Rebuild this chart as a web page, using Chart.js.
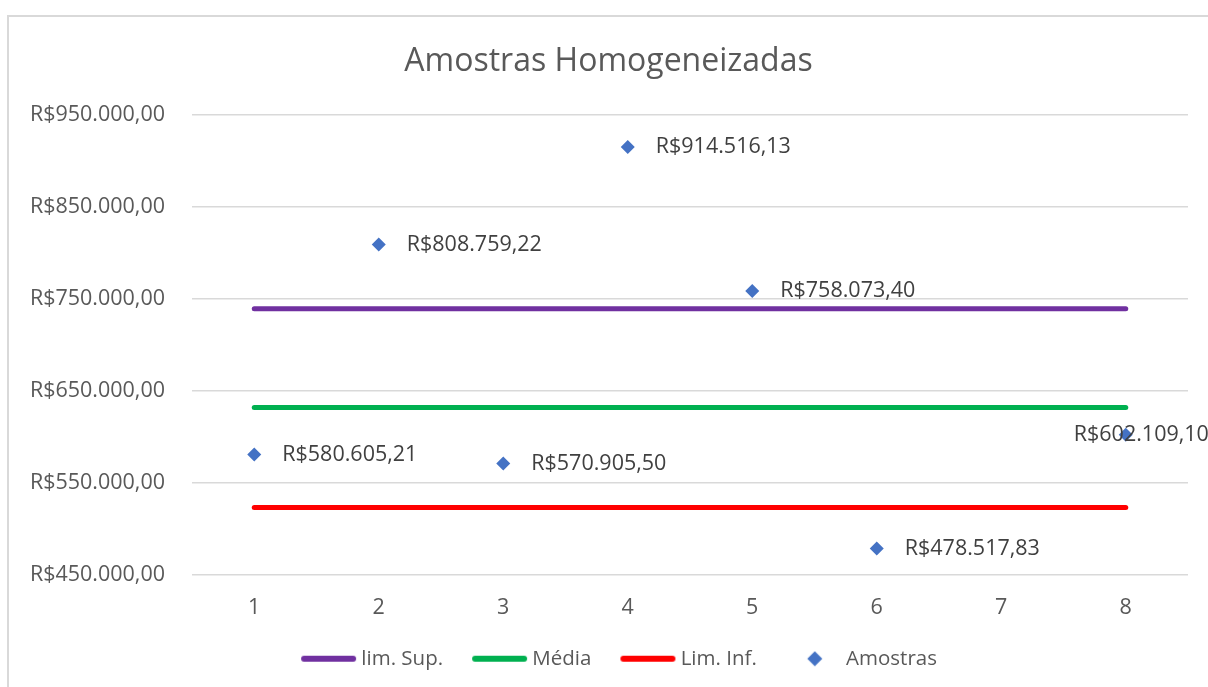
<!DOCTYPE html>
<html>
<head>
<meta charset="utf-8">
<script src="https://cdn.jsdelivr.net/npm/chart.js@4.4.0/dist/chart.umd.min.js"></script>
<style>
  html, body { margin: 0; padding: 0; background: #fff; }
  #wrap { position: relative; width: 1208px; height: 687px; overflow: hidden; }
  #frame { position: absolute; left: 7px; top: 15px; width: 1400px; height: 900px;
           border-left: 2px solid #d9d9d9; border-top: 2px solid #d9d9d9; }
  canvas { position: absolute; left: 0; top: 0; }
</style>
</head>
<body>
<div id="wrap">
  <div id="frame"></div>
  <canvas id="chart" width="1208" height="687"></canvas>
</div>
<script>
// Data
const categories = ['1', '2', '3', '4', '5', '6', '7', '8'];
const amostras = [580605.21, 808759.22, 570905.50, 914516.13, 758073.40, 478517.83, null, 602109.10];
const limSup = [739000, 739000, 739000, 739000, 739000, 739000, 739000, 739000];
const media = [631500, 631500, 631500, 631500, 631500, 631500, 631500, 631500];
const limInf = [523000, 523000, 523000, 523000, 523000, 523000, 523000, 523000];

const FONT = '"Open Sans", "Noto Sans", sans-serif';

// Format as Brazilian currency, e.g. R$950.000,00
function brl(v) {
    const parts = v.toFixed(2).split('.');
    return 'R$' + parts[0].replace(/\B(?=(\d{3})+(?!\d))/g, '.') + ',' + parts[1];
}

// Legend symbols drawn on small canvases (left part left empty as spacing)
function lineSymbol(color) {
    const c = document.createElement('canvas');
    c.width = 83; c.height = 8;
    const g = c.getContext('2d');
    g.strokeStyle = color;
    g.lineWidth = 6;
    g.lineCap = 'round';
    g.beginPath();
    g.moveTo(30, 4);
    g.lineTo(79, 4);
    g.stroke();
    return c;
}

function diamondSymbol(color) {
    const c = document.createElement('canvas');
    c.width = 83; c.height = 16;
    const g = c.getContext('2d');
    g.fillStyle = color;
    g.beginPath();
    g.moveTo(56, 0.5);
    g.lineTo(63.5, 8);
    g.lineTo(56, 15.5);
    g.lineTo(48.5, 8);
    g.closePath();
    g.fill();
    return c;
}

const legendSymbols = [
    lineSymbol('#7030A0'),
    lineSymbol('#00B050'),
    lineSymbol('#FF0000'),
    diamondSymbol('#4472C4')
];

// Value labels next to the sample points
const pointLabels = {
    id: 'pointLabels',
    afterDatasetsDraw(chart) {
        const meta = chart.getDatasetMeta(3);
        const ctx = chart.ctx;
        ctx.save();
        ctx.font = '21.5px ' + FONT;
        ctx.fillStyle = '#404040';
        ctx.textBaseline = 'middle';
        ctx.textAlign = 'left';
        meta.data.forEach((el, i) => {
            const v = amostras[i];
            if (v === null) return;
            // last label was pushed left of its point in the original
            const dx = i === amostras.length - 1 ? -52 : 28;
            ctx.fillText(brl(v), el.x + dx, el.y);
        });
        ctx.restore();
    }
};

const ctx = document.getElementById('chart').getContext('2d');
new Chart(ctx, {
    type: 'line',
    data: {
        labels: categories,
        datasets: [
            {
                label: 'lim. Sup.',
                data: limSup,
                borderColor: '#7030A0',
                backgroundColor: '#7030A0',
                borderWidth: 5,
                borderCapStyle: 'round',
                pointRadius: 0
            },
            {
                label: 'Média',
                data: media,
                borderColor: '#00B050',
                backgroundColor: '#00B050',
                borderWidth: 5,
                borderCapStyle: 'round',
                pointRadius: 0
            },
            {
                label: 'Lim. Inf.',
                data: limInf,
                borderColor: '#FF0000',
                backgroundColor: '#FF0000',
                borderWidth: 5,
                borderCapStyle: 'round',
                pointRadius: 0
            },
            {
                label: 'Amostras',
                data: amostras,
                showLine: false,
                pointStyle: 'rectRot',
                pointRadius: 7,
                pointBorderWidth: 0,
                pointBackgroundColor: '#4472C4',
                pointBorderColor: '#4472C4'
            }
        ]
    },
    options: {
        responsive: false,
        animation: false,
        layout: {
            padding: { left: 29, right: 20, top: 0, bottom: 8 }
        },
        scales: {
            x: {
                offset: true,
                grid: { display: false, drawTicks: false },
                border: { display: false },
                ticks: {
                    color: '#595959',
                    font: { family: FONT, size: 21.5 },
                    padding: 20
                }
            },
            y: {
                min: 450000,
                max: 950000,
                grid: { color: '#d9d9d9', lineWidth: 1.5, drawTicks: false },
                border: { display: false },
                ticks: {
                    stepSize: 100000,
                    color: '#595959',
                    font: { family: FONT, size: 21.5 },
                    padding: 27,
                    callback: (v) => brl(v)
                },
                afterFit(scale) {
                    scale.width = 163;
                }
            }
        },
        plugins: {
            title: {
                display: true,
                text: 'Amostras Homogeneizadas',
                color: '#595959',
                font: { family: FONT, size: 32, weight: 'normal', lineHeight: 1.2 },
                padding: { top: 43, bottom: 33 }
            },
            legend: {
                position: 'bottom',
                labels: {
                    usePointStyle: true,
                    pointStyleWidth: 71,
                    boxHeight: 10,
                    padding: 8,
                    color: '#595959',
                    font: { family: FONT, size: 20.5 },
                    generateLabels(chart) {
                        const items = Chart.defaults.plugins.legend.labels.generateLabels(chart);
                        items.forEach((it, i) => { it.pointStyle = legendSymbols[i]; });
                        return items;
                    }
                }
            },
            tooltip: { enabled: false }
        }
    },
    plugins: [pointLabels]
});
</script>
</body>
</html>
